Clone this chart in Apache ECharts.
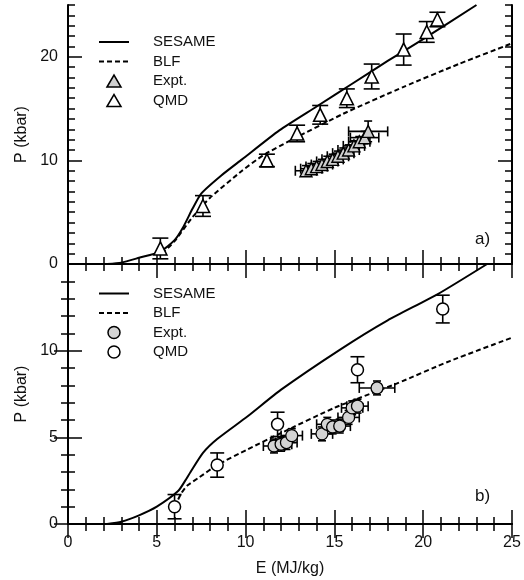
<!DOCTYPE html>
<html>
<head>
<meta charset="utf-8">
<script src="https://cdn.jsdelivr.net/npm/echarts@6/dist/echarts.min.js"></script>
<style>
  html, body { margin: 0; padding: 0; background: #fff; }
  #chart { width: 524px; height: 580px; }
</style>
</head>
<body>
<div id="chart"></div>
<script>
// panel a) curves, [E, P]
const sesameA = [[2.2, 0], [3, 0.13], [4, 0.6], [5.2, 1.2], [6.0, 2.3], [6.5, 3.6], [7.0, 5.3],
  [7.5, 6.8], [8.6, 8.5], [9.8, 10.1], [11.9, 12.9], [14, 15.2], [16, 17.4], [18, 19.6], [20, 21.7], [23, 25]];
const blfA = [[5.3, 1.0], [6.0, 2.2], [7.0, 4.5], [8.0, 6.4], [9.8, 9.0], [11, 10.5], [12.5, 11.9],
  [15.5, 14.5], [18.9, 17.1], [22, 19.3], [25, 21.3]];

// panel a) points
const qmdA_E = [5.2, 7.6, 11.2, 12.9, 14.2, 15.7, 17.1, 18.9, 20.2, 20.8];
const qmdA_P = [1.5, 5.6, 10.0, 12.6, 14.4, 16.0, 18.1, 20.7, 22.4, 23.6];
const qmdA_Perr = [1.0, 1.0, 0.6, 0.8, 0.9, 0.9, 1.2, 1.5, 1.0, 0.7];

const exptA_E = [13.4, 13.7, 14.0, 14.3, 14.6, 14.9, 15.2, 15.5, 15.8, 16.1, 16.4, 16.7, 16.9];
const exptA_P = [9.0, 9.2, 9.4, 9.6, 9.9, 10.1, 10.4, 10.7, 11.0, 11.4, 11.8, 12.2, 12.8];
const exptA_Eerr = [0.6, 0.6, 0.6, 0.6, 0.6, 0.6, 0.6, 0.6, 0.6, 0.6, 0.6, 0.8, 1.1];
const exptA_Perr = [0.5, 0.5, 0.5, 0.5, 0.5, 0.5, 0.5, 0.5, 0.5, 0.5, 0.5, 0.6, 1.0];

// panel b) curves
const sesameB = [[2.2, 0], [3, 0.13], [4, 0.5], [5, 1.0], [6.2, 1.9], [6.6, 2.5], [6.9, 3.0], [7.6, 4.1],
  [8.4, 4.9], [10.1, 6.2], [12.0, 7.75], [15.3, 10.05], [18, 11.75], [20.8, 13.25], [23.6, 15]];
const blfB = [[6.0, 1.0], [6.4, 1.8], [6.7, 2.2], [7.4, 2.7], [8.4, 3.4], [10.1, 4.3], [11.9, 5.2],
  [15, 6.7], [18.5, 8.1], [21.5, 9.4], [25, 10.75]];

// panel b) points
const qmdB_E = [6.0, 8.4, 11.8, 16.3, 21.1];
const qmdB_P = [1.0, 3.4, 5.75, 8.9, 12.4];
const qmdB_Perr = [0.7, 0.7, 0.7, 0.75, 0.8];

const exptB_E = [11.6, 12.0, 12.3, 12.6, 14.3, 14.6, 14.9, 15.3, 15.8, 16.0, 16.3, 17.4];
const exptB_P = [4.5, 4.6, 4.7, 5.1, 5.2, 5.75, 5.6, 5.65, 6.15, 6.7, 6.8, 7.85];
const exptB_Eerr = [0.6, 0.6, 0.6, 0.6, 0.6, 0.6, 0.6, 0.6, 0.6, 0.6, 0.6, 1.0];
const exptB_Perr = [0.4, 0.4, 0.4, 0.4, 0.4, 0.4, 0.4, 0.4, 0.4, 0.4, 0.4, 0.4];

const xTicks = [0, 5, 10, 15, 20, 25];
const yTicksA = [0, 10, 20];
const yTicksB = [0, 5, 10];

const FONT = 'Liberation Sans, Arial, sans-serif';
// triangle centred in a 30x12 legend box (empty moves keep the box size)
const LEGEND_TRI = 'path://M0,12L0,12M8,12L15,0L22,12ZM30,12L30,12M0,0L0,0';

const chart = echarts.init(document.getElementById('chart'), null, { renderer: 'canvas' });

function pts(E, P, Eerr, Perr) {
  return E.map(function (e, i) {
    return [e, P[i], Eerr ? Eerr[i] : 0, Perr[i]];
  });
}

function errorBars(capV, capH) {
  return function (params, api) {
    const x = api.value(0), y = api.value(1), ex = api.value(2), ey = api.value(3);
    const st = { stroke: '#000', lineWidth: 1.6 };
    const kids = [];
    if (ey > 0) {
      const t = api.coord([x, y + ey]), b = api.coord([x, y - ey]);
      kids.push({ type: 'line', shape: { x1: t[0], y1: t[1], x2: b[0], y2: b[1] }, style: st });
      kids.push({ type: 'line', shape: { x1: t[0] - capV, y1: t[1], x2: t[0] + capV, y2: t[1] }, style: st });
      kids.push({ type: 'line', shape: { x1: b[0] - capV, y1: b[1], x2: b[0] + capV, y2: b[1] }, style: st });
    }
    if (ex > 0) {
      const l = api.coord([x - ex, y]), r = api.coord([x + ex, y]);
      kids.push({ type: 'line', shape: { x1: l[0], y1: l[1], x2: r[0], y2: r[1] }, style: st });
      kids.push({ type: 'line', shape: { x1: l[0], y1: l[1] - capH, x2: l[0], y2: l[1] + capH }, style: st });
      kids.push({ type: 'line', shape: { x1: r[0], y1: r[1] - capH, x2: r[0], y2: r[1] + capH }, style: st });
    }
    return { type: 'group', children: kids };
  };
}

const tickLine = { lineStyle: { color: '#000', width: 1.5 } };
const axisLine = { show: true, lineStyle: { color: '#000', width: 2 } };

function xAx(grid, pos, labels) {
  return {
    type: 'value', gridIndex: grid, position: pos, min: 0, max: 25, interval: 5,
    axisLine: axisLine,
    axisTick: { inside: true, length: 14, lineStyle: tickLine.lineStyle },
    minorTick: { show: true, splitNumber: 5, length: 7, lineStyle: tickLine.lineStyle },
    splitLine: { show: false },
    axisLabel: labels ? { show: true, fontSize: 16, fontFamily: FONT, color: '#111', margin: 11,
      customValues: xTicks } : { show: false },
    name: labels ? 'E (MJ/kg)' : '', nameLocation: 'middle', nameGap: 37,
    nameTextStyle: { fontSize: 16, fontFamily: FONT, color: '#111' }
  };
}

function yMajor(grid, pos, max, interval, ticks, labels) {
  return {
    type: 'value', gridIndex: grid, position: pos, min: 0, max: max, interval: interval,
    axisLine: axisLine,
    axisTick: { inside: true, length: 14, lineStyle: tickLine.lineStyle, customValues: ticks },
    splitLine: { show: false },
    axisLabel: labels ? { show: true, fontSize: 16, fontFamily: FONT, color: '#111', margin: 10,
      customValues: ticks } : { show: false },
    name: labels ? 'P (kbar)' : '', nameLocation: 'middle', nameGap: 25,
    nameTextStyle: { fontSize: 16, fontFamily: FONT, color: '#111' }
  };
}

function yMinor(grid, pos, max) {
  return {
    type: 'value', gridIndex: grid, position: pos, min: 0, max: max, interval: 1,
    axisLine: { show: false },
    axisTick: { inside: true, length: 7, lineStyle: tickLine.lineStyle },
    splitLine: { show: false },
    axisLabel: { show: false }
  };
}

const legendBase = {
  orient: 'vertical', left: 98, padding: 0, itemWidth: 30, itemHeight: 12, itemGap: 4.5,
  selectedMode: false,
  textStyle: { fontSize: 15, fontFamily: FONT, color: '#111', padding: [0, 0, 0, 19] },
  itemStyle: { borderColor: '#000', borderWidth: 1.5 },
  formatter: function (n) { return n.replace(' (b)', ''); }
};

const option = {
  animation: false,
  backgroundColor: '#fff',
  grid: [
    { left: 68, right: 12, top: 5, height: 259 },
    { left: 68, right: 12, top: 264, height: 260 }
  ],
  xAxis: [xAx(0, 'bottom', false), xAx(0, 'top', false), xAx(1, 'bottom', true), xAx(1, 'top', false)],
  yAxis: [
    yMajor(0, 'left', 25, 10, yTicksA, true),
    yMinor(0, 'left', 25),
    yMajor(0, 'right', 25, 10, yTicksA, false),
    yMinor(0, 'right', 25),
    Object.assign(yMajor(1, 'left', 15, 5, yTicksB, true),
      { minorTick: { show: true, splitNumber: 5, length: 7, lineStyle: tickLine.lineStyle } }),
    Object.assign(yMajor(1, 'right', 15, 5, yTicksB, false),
      { minorTick: { show: true, splitNumber: 5, length: 7, lineStyle: tickLine.lineStyle } })
  ],
  legend: [
    Object.assign({}, legendBase, {
      top: 34.5,
      data: [
        { name: 'SESAME', itemStyle: { opacity: 0 } },
        { name: 'BLF', itemStyle: { opacity: 0 } },
        { name: 'Expt.', icon: LEGEND_TRI, itemStyle: { color: '#cfcfcf', borderColor: '#000', borderWidth: 1.5 } },
        { name: 'QMD', icon: LEGEND_TRI, itemStyle: { color: '#fff', borderColor: '#000', borderWidth: 1.5 } }
      ]
    }),
    Object.assign({}, legendBase, {
      top: 286,
      data: [
        { name: 'SESAME (b)', itemStyle: { opacity: 0 } },
        { name: 'BLF (b)', itemStyle: { opacity: 0 } },
        'Expt. (b)',
        'QMD (b)'
      ]
    })
  ],
  graphic: [
    { type: 'text', left: 475, top: 231, style: { text: 'a)', font: '17px ' + FONT, fill: '#111' } },
    { type: 'text', left: 475, top: 488, style: { text: 'b)', font: '17px ' + FONT, fill: '#111' } }
  ],
  series: [
    { name: 'SESAME', type: 'line', xAxisIndex: 0, yAxisIndex: 0, data: sesameA, symbol: 'none',
      smooth: 0.2, lineStyle: { color: '#000', width: 2 }, itemStyle: { color: '#000' }, z: 2 },
    { name: 'BLF', type: 'line', xAxisIndex: 0, yAxisIndex: 0, data: blfA, symbol: 'none',
      smooth: 0.2, lineStyle: { color: '#000', width: 2, type: [5, 3] }, itemStyle: { color: '#000' }, z: 2 },
    { type: 'custom', xAxisIndex: 0, yAxisIndex: 0, data: pts(exptA_E, exptA_P, exptA_Eerr, exptA_Perr),
      renderItem: errorBars(4, 5), z: 3 },
    { type: 'custom', xAxisIndex: 0, yAxisIndex: 0, data: pts(qmdA_E, qmdA_P, null, qmdA_Perr),
      renderItem: errorBars(8, 5), z: 3 },
    { name: 'Expt.', type: 'scatter', xAxisIndex: 0, yAxisIndex: 0, symbol: 'triangle', symbolSize: 12,
      data: exptA_E.map(function (e, i) { return [e, exptA_P[i]]; }),
      itemStyle: { color: '#cfcfcf', borderColor: '#000', borderWidth: 1.4, opacity: 1 }, z: 4 },
    { name: 'QMD', type: 'scatter', xAxisIndex: 0, yAxisIndex: 0, symbol: 'triangle', symbolSize: 13,
      data: qmdA_E.map(function (e, i) { return [e, qmdA_P[i]]; }),
      itemStyle: { color: '#fff', borderColor: '#000', borderWidth: 1.6, opacity: 1 }, z: 4 },

    { name: 'SESAME (b)', type: 'line', xAxisIndex: 2, yAxisIndex: 4, data: sesameB, symbol: 'none',
      smooth: 0.2, lineStyle: { color: '#000', width: 2 }, itemStyle: { color: '#000' }, z: 2 },
    { name: 'BLF (b)', type: 'line', xAxisIndex: 2, yAxisIndex: 4, data: blfB, symbol: 'none',
      smooth: 0.2, lineStyle: { color: '#000', width: 2, type: [5, 3] }, itemStyle: { color: '#000' }, z: 2 },
    { type: 'custom', xAxisIndex: 2, yAxisIndex: 4, data: pts(exptB_E, exptB_P, exptB_Eerr, exptB_Perr),
      renderItem: errorBars(4, 5), z: 3 },
    { type: 'custom', xAxisIndex: 2, yAxisIndex: 4, data: pts(qmdB_E, qmdB_P, null, qmdB_Perr),
      renderItem: errorBars(7, 5), z: 3 },
    { name: 'Expt. (b)', type: 'scatter', xAxisIndex: 2, yAxisIndex: 4, symbol: 'circle', symbolSize: 12,
      data: exptB_E.map(function (e, i) { return [e, exptB_P[i]]; }),
      itemStyle: { color: '#d4d4d4', borderColor: '#000', borderWidth: 1.3, opacity: 1 }, z: 4 },
    { name: 'QMD (b)', type: 'scatter', xAxisIndex: 2, yAxisIndex: 4, symbol: 'circle', symbolSize: 12,
      data: qmdB_E.map(function (e, i) { return [e, qmdB_P[i]]; }),
      itemStyle: { color: '#fff', borderColor: '#000', borderWidth: 1.5, opacity: 1 }, z: 4 }
  ]
};

chart.setOption(option);
</script>
</body>
</html>
